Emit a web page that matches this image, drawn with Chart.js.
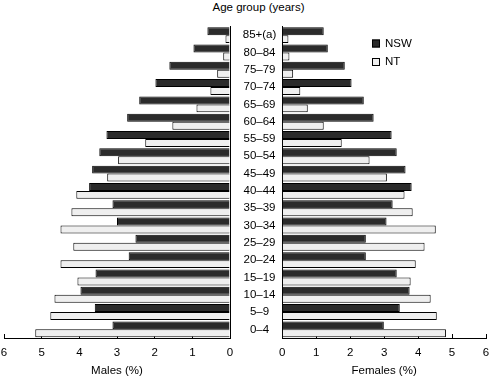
<!DOCTYPE html>
<html>
<head>
<meta charset="utf-8">
<script src="https://cdn.jsdelivr.net/npm/chart.js@4"></script>
<style>
  html, body { margin: 0; padding: 0; background: #fff; }
  #wrap { position: relative; width: 492px; height: 381px; overflow: hidden; }
  canvas { position: absolute; top: 0; }
  #males { left: 0; }
  #females { left: 240px; }
  #title {
    position: absolute; top: 1px; left: 0; width: 517px;
    text-align: center; line-height: 14px;
    font: 11.5px "Liberation Sans", Arial, sans-serif; color: #000;
  }
</style>
</head>
<body>
<div id="wrap">
  <div id="title">Age group (years)</div>
  <canvas id="males" width="240" height="381"></canvas>
  <canvas id="females" width="252" height="381"></canvas>
</div>
<script>
// age groups, top to bottom
const ageGroups = ['85+(a)', '80–84', '75–79', '70–74', '65–69', '60–64', '55–59', '50–54', '45–49',
  '40–44', '35–39', '30–34', '25–29', '20–24', '15–19', '10–14', '5–9', '0–4'];

// percent of population
const malesNSW = [0.60, 0.97, 1.61, 1.98, 2.41, 2.73, 3.28, 3.47, 3.66, 3.74, 3.12, 3.00, 2.51, 2.69, 3.57, 3.97, 3.59, 3.12];
const malesNT = [0.12, 0.18, 0.34, 0.52, 0.89, 1.53, 2.25, 2.97, 3.26, 4.08, 4.21, 4.50, 4.16, 4.50, 4.05, 4.66, 4.77, 5.17];
const femalesNSW = [1.22, 1.34, 1.84, 2.04, 2.40, 2.69, 3.22, 3.37, 3.63, 3.81, 3.25, 3.07, 2.46, 2.46, 3.37, 3.75, 3.46, 2.99];
const femalesNT = [0.18, 0.21, 0.32, 0.53, 0.75, 1.22, 1.75, 2.57, 3.08, 3.60, 3.84, 4.52, 4.19, 3.93, 3.78, 4.37, 4.55, 4.82];

const xTicks = [0, 1, 2, 3, 4, 5, 6];

const FONT = '"Liberation Sans", Arial, sans-serif';
const NSW_COLOR = '#2b2b2b';
const NT_COLOR = '#efefef';

Chart.defaults.font.family = FONT;
Chart.defaults.font.size = 11.5;
Chart.defaults.color = '#000';

function datasets(nsw, nt) {
  return [
    { label: 'NSW', data: nsw, backgroundColor: NSW_COLOR, borderColor: '#000', borderWidth: 1 },
    { label: 'NT', data: nt, backgroundColor: NT_COLOR, borderColor: '#000', borderWidth: 1 }
  ];
}

function xScale(title, reverse) {
  return {
    type: 'linear',
    min: 0,
    max: 6,
    reverse: reverse,
    afterBuildTicks: (scale) => { scale.ticks = xTicks.map(v => ({ value: v })); },
    grid: { display: true, drawOnChartArea: false, tickLength: -4, color: '#000' },
    border: { display: true, color: '#000', width: 1 },
    ticks: { padding: 12, maxRotation: 0 },
    title: { display: true, text: title, padding: { top: 0, bottom: 3 } },
    afterFit: (scale) => {
      scale.height = 43;
      // keep the plot edges where the layout padding puts them
      scale.paddingLeft = 0;
      scale.paddingRight = 0;
    }
  };
}

// legend drawn inside the plot area of the females chart
const innerLegend = {
  id: 'innerLegend',
  afterDraw(chart) {
    const ctx = chart.ctx;
    ctx.save();
    ctx.font = '11.5px ' + FONT;
    ctx.textBaseline = 'middle';
    chart.data.datasets.forEach((ds, i) => {
      const y = 43.5 + i * 18.5;
      ctx.fillStyle = ds.backgroundColor;
      ctx.fillRect(132, y - 4, 8, 8);
      ctx.strokeStyle = '#000';
      ctx.lineWidth = 1;
      ctx.strokeRect(132.5, y - 3.5, 7, 7);
      ctx.fillStyle = '#000';
      ctx.fillText(ds.label, 145, y);
    });
    ctx.restore();
  }
};

const common = {
  indexAxis: 'y',
  responsive: false,
  animation: false,
  devicePixelRatio: 1,
  datasets: { bar: { categoryPercentage: 0.92, barPercentage: 1.0 } },
  plugins: { legend: { display: false }, tooltip: { enabled: false } }
};

new Chart(document.getElementById('males'), {
  type: 'bar',
  data: { labels: ageGroups, datasets: datasets(malesNSW, malesNT) },
  options: {
    ...common,
    layout: { padding: { left: 4, right: 10, top: 26.5, bottom: 0 } },
    scales: {
      x: xScale('Males (%)', true),
      y: {
        position: 'right',
        grid: { display: false, drawTicks: false },
        border: { display: true, color: '#000', width: 1 },
        ticks: { display: false },
        afterFit: (scale) => { scale.width = 0; }
      }
    }
  }
});

new Chart(document.getElementById('females'), {
  type: 'bar',
  data: { labels: ageGroups, datasets: datasets(femalesNSW, femalesNT) },
  options: {
    ...common,
    layout: { padding: { left: 0, right: 6, top: 26.5, bottom: 0 } },
    scales: {
      x: xScale('Females (%)', false),
      y: {
        position: 'left',
        grid: { display: false, drawTicks: false },
        border: { display: true, color: '#000', width: 1 },
        ticks: { crossAlign: 'center', padding: 6, autoSkip: false },
        afterFit: (scale) => { scale.width = 42.3; }
      }
    }
  },
  plugins: [innerLegend]
});
</script>
</body>
</html>
